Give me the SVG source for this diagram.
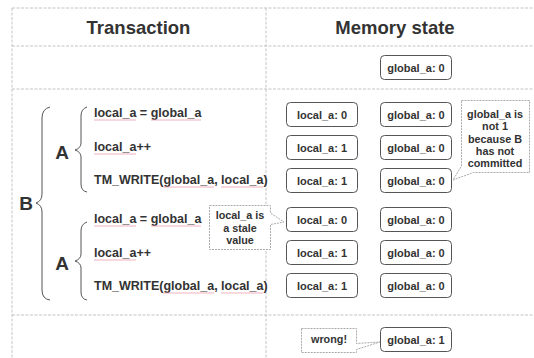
<svg xmlns="http://www.w3.org/2000/svg" width="534" height="358" viewBox="0 0 534 358">
<style>
.grid{stroke:#c4c4c4;stroke-width:1;stroke-dasharray:3,1.5;fill:none}
.hdr{font-family:"Liberation Sans",Arial,sans-serif;font-weight:bold;font-size:18.5px;fill:#333;text-anchor:middle}
.code{font-family:"Liberation Sans",Arial,sans-serif;font-weight:bold;font-size:12.5px;fill:#333}
.big{font-family:"Liberation Sans",Arial,sans-serif;font-weight:bold;font-size:19px;fill:#333;text-anchor:middle}
.box rect{fill:#fff;stroke:#555;stroke-width:1}
.box text{font-family:"Liberation Sans",Arial,sans-serif;font-weight:bold;font-size:11px;fill:#333;text-anchor:middle}
.call path{fill:#fff;stroke:#aaa;stroke-width:1;stroke-dasharray:2,1}
.call text{font-family:"Liberation Sans",Arial,sans-serif;font-weight:bold;font-size:10.8px;fill:#333;text-anchor:middle}
.brace{fill:none;stroke:#555;stroke-width:1}
.sp{stroke:#eaa0ac;stroke-width:0.8}
</style>
<rect width="534" height="358" fill="#fff"/>
<g id="grid">
<line class="grid" x1="12" y1="8" x2="534" y2="8"/>
<line class="grid" x1="12" y1="46" x2="534" y2="46"/>
<line class="grid" x1="12" y1="89" x2="534" y2="89"/>
<line class="grid" x1="12" y1="315" x2="534" y2="315"/>
<line class="grid" x1="12" y1="8" x2="12" y2="358"/>
<line class="grid" x1="266" y1="8" x2="266" y2="358"/>
</g>
<g id="headers">
<text class="hdr" x="138.5" y="34">Transaction</text>
<text class="hdr" x="395" y="34">Memory state</text>
</g>
<g id="braces">
<path class="brace" d="M50,107 Q42,109 42,118 L42,194 Q42,201 36,203 Q42,205 42,212 L42,290 Q42,299 50,300"/>
<path class="brace" d="M87,107 Q81,109 81,116 L81,143 Q81,148 75,150 Q81,152 81,157 L81,184 Q81,191 87,192"/>
<path class="brace" d="M87,222 Q81,224 81,231 L81,254 Q81,259 75,261 Q81,263 81,268 L81,292 Q81,299 87,300"/>
<text class="big" x="26" y="210">B</text>
<text class="big" x="62" y="159">A</text>
<text class="big" x="62" y="270">A</text>
</g>
<g id="code1">
<text class="code" x="94" y="117">local_a = global_a</text>
<text class="code" x="94" y="151">local_a++</text>
<text class="code" x="94" y="184">TM_WRITE(global_a, local_a)</text>
<line class="sp" x1="94" y1="120" x2="136" y2="120"/>
<line class="sp" x1="151" y1="120" x2="201" y2="120"/>
<line class="sp" x1="94" y1="154" x2="136" y2="154"/>
<line class="sp" x1="163" y1="187" x2="214" y2="187"/>
<line class="sp" x1="221" y1="187" x2="263" y2="187"/>
</g>
<g id="code2">
<text class="code" x="94" y="223">local_a = global_a</text>
<text class="code" x="94" y="257">local_a++</text>
<text class="code" x="94" y="290">TM_WRITE(global_a, local_a)</text>
<line class="sp" x1="94" y1="226" x2="136" y2="226"/>
<line class="sp" x1="151" y1="226" x2="201" y2="226"/>
<line class="sp" x1="94" y1="260" x2="136" y2="260"/>
<line class="sp" x1="163" y1="293" x2="214" y2="293"/>
<line class="sp" x1="221" y1="293" x2="263" y2="293"/>
</g>
<g id="g0" class="box"><rect x="380.5" y="55.5" width="71" height="24" rx="4"/><text x="416" y="71.5">global_a: 0</text></g>
<g id="l1" class="box"><rect x="286.5" y="102.5" width="71" height="24" rx="4"/><text x="322" y="118.5">local_a: 0</text></g>
<g id="g1" class="box"><rect x="380.5" y="102.5" width="71" height="24" rx="4"/><text x="416" y="118.5">global_a: 0</text></g>
<g id="l2" class="box"><rect x="286.5" y="135.5" width="71" height="24" rx="4"/><text x="322" y="151.5">local_a: 1</text></g>
<g id="g2" class="box"><rect x="380.5" y="135.5" width="71" height="24" rx="4"/><text x="416" y="151.5">global_a: 0</text></g>
<g id="l3" class="box"><rect x="286.5" y="168.5" width="71" height="24" rx="4"/><text x="322" y="184.5">local_a: 1</text></g>
<g id="g3" class="box"><rect x="380.5" y="168.5" width="71" height="24" rx="4"/><text x="416" y="184.5">global_a: 0</text></g>
<g id="l4" class="box"><rect x="286.5" y="207.5" width="71" height="24" rx="4"/><text x="322" y="223.5">local_a: 0</text></g>
<g id="g4" class="box"><rect x="380.5" y="207.5" width="71" height="24" rx="4"/><text x="416" y="223.5">global_a: 0</text></g>
<g id="l5" class="box"><rect x="286.5" y="240.5" width="71" height="24" rx="4"/><text x="322" y="256.5">local_a: 1</text></g>
<g id="g5" class="box"><rect x="380.5" y="240.5" width="71" height="24" rx="4"/><text x="416" y="256.5">global_a: 0</text></g>
<g id="l6" class="box"><rect x="286.5" y="273.5" width="71" height="24" rx="4"/><text x="322" y="289.5">local_a: 1</text></g>
<g id="g6" class="box"><rect x="380.5" y="273.5" width="71" height="24" rx="4"/><text x="416" y="289.5">global_a: 0</text></g>
<g id="g7" class="box"><rect x="380.5" y="327.5" width="71" height="24" rx="4"/><text x="416" y="343.5">global_a: 1</text></g>
<g id="c1" class="call">
<path d="M461.5,100.5 L529.5,100.5 L529.5,172.5 L473.5,172.5 L453,180 L461.5,166 Z"/>
<text x="495" y="118">global_a is</text>
<text x="495" y="130">not 1</text>
<text x="495" y="142.5">because B</text>
<text x="495" y="154.5">has not</text>
<text x="495" y="166.5">committed</text>
</g>
<g id="c2" class="call">
<path d="M209.5,205.5 L270.5,205.5 L270.5,213 L284,222 L270.5,224.5 L270.5,249.5 L209.5,249.5 Z"/>
<text x="240" y="219">local_a is</text>
<text x="240" y="231.5">a stale</text>
<text x="240" y="244">value</text>
</g>
<g id="c3" class="call">
<path d="M301.5,328.5 L356.5,328.5 L356.5,343.5 L380,342 L356.5,349.5 L356.5,352.5 L301.5,352.5 Z"/>
<text x="329" y="343">wrong!</text>
</g>
</svg>
